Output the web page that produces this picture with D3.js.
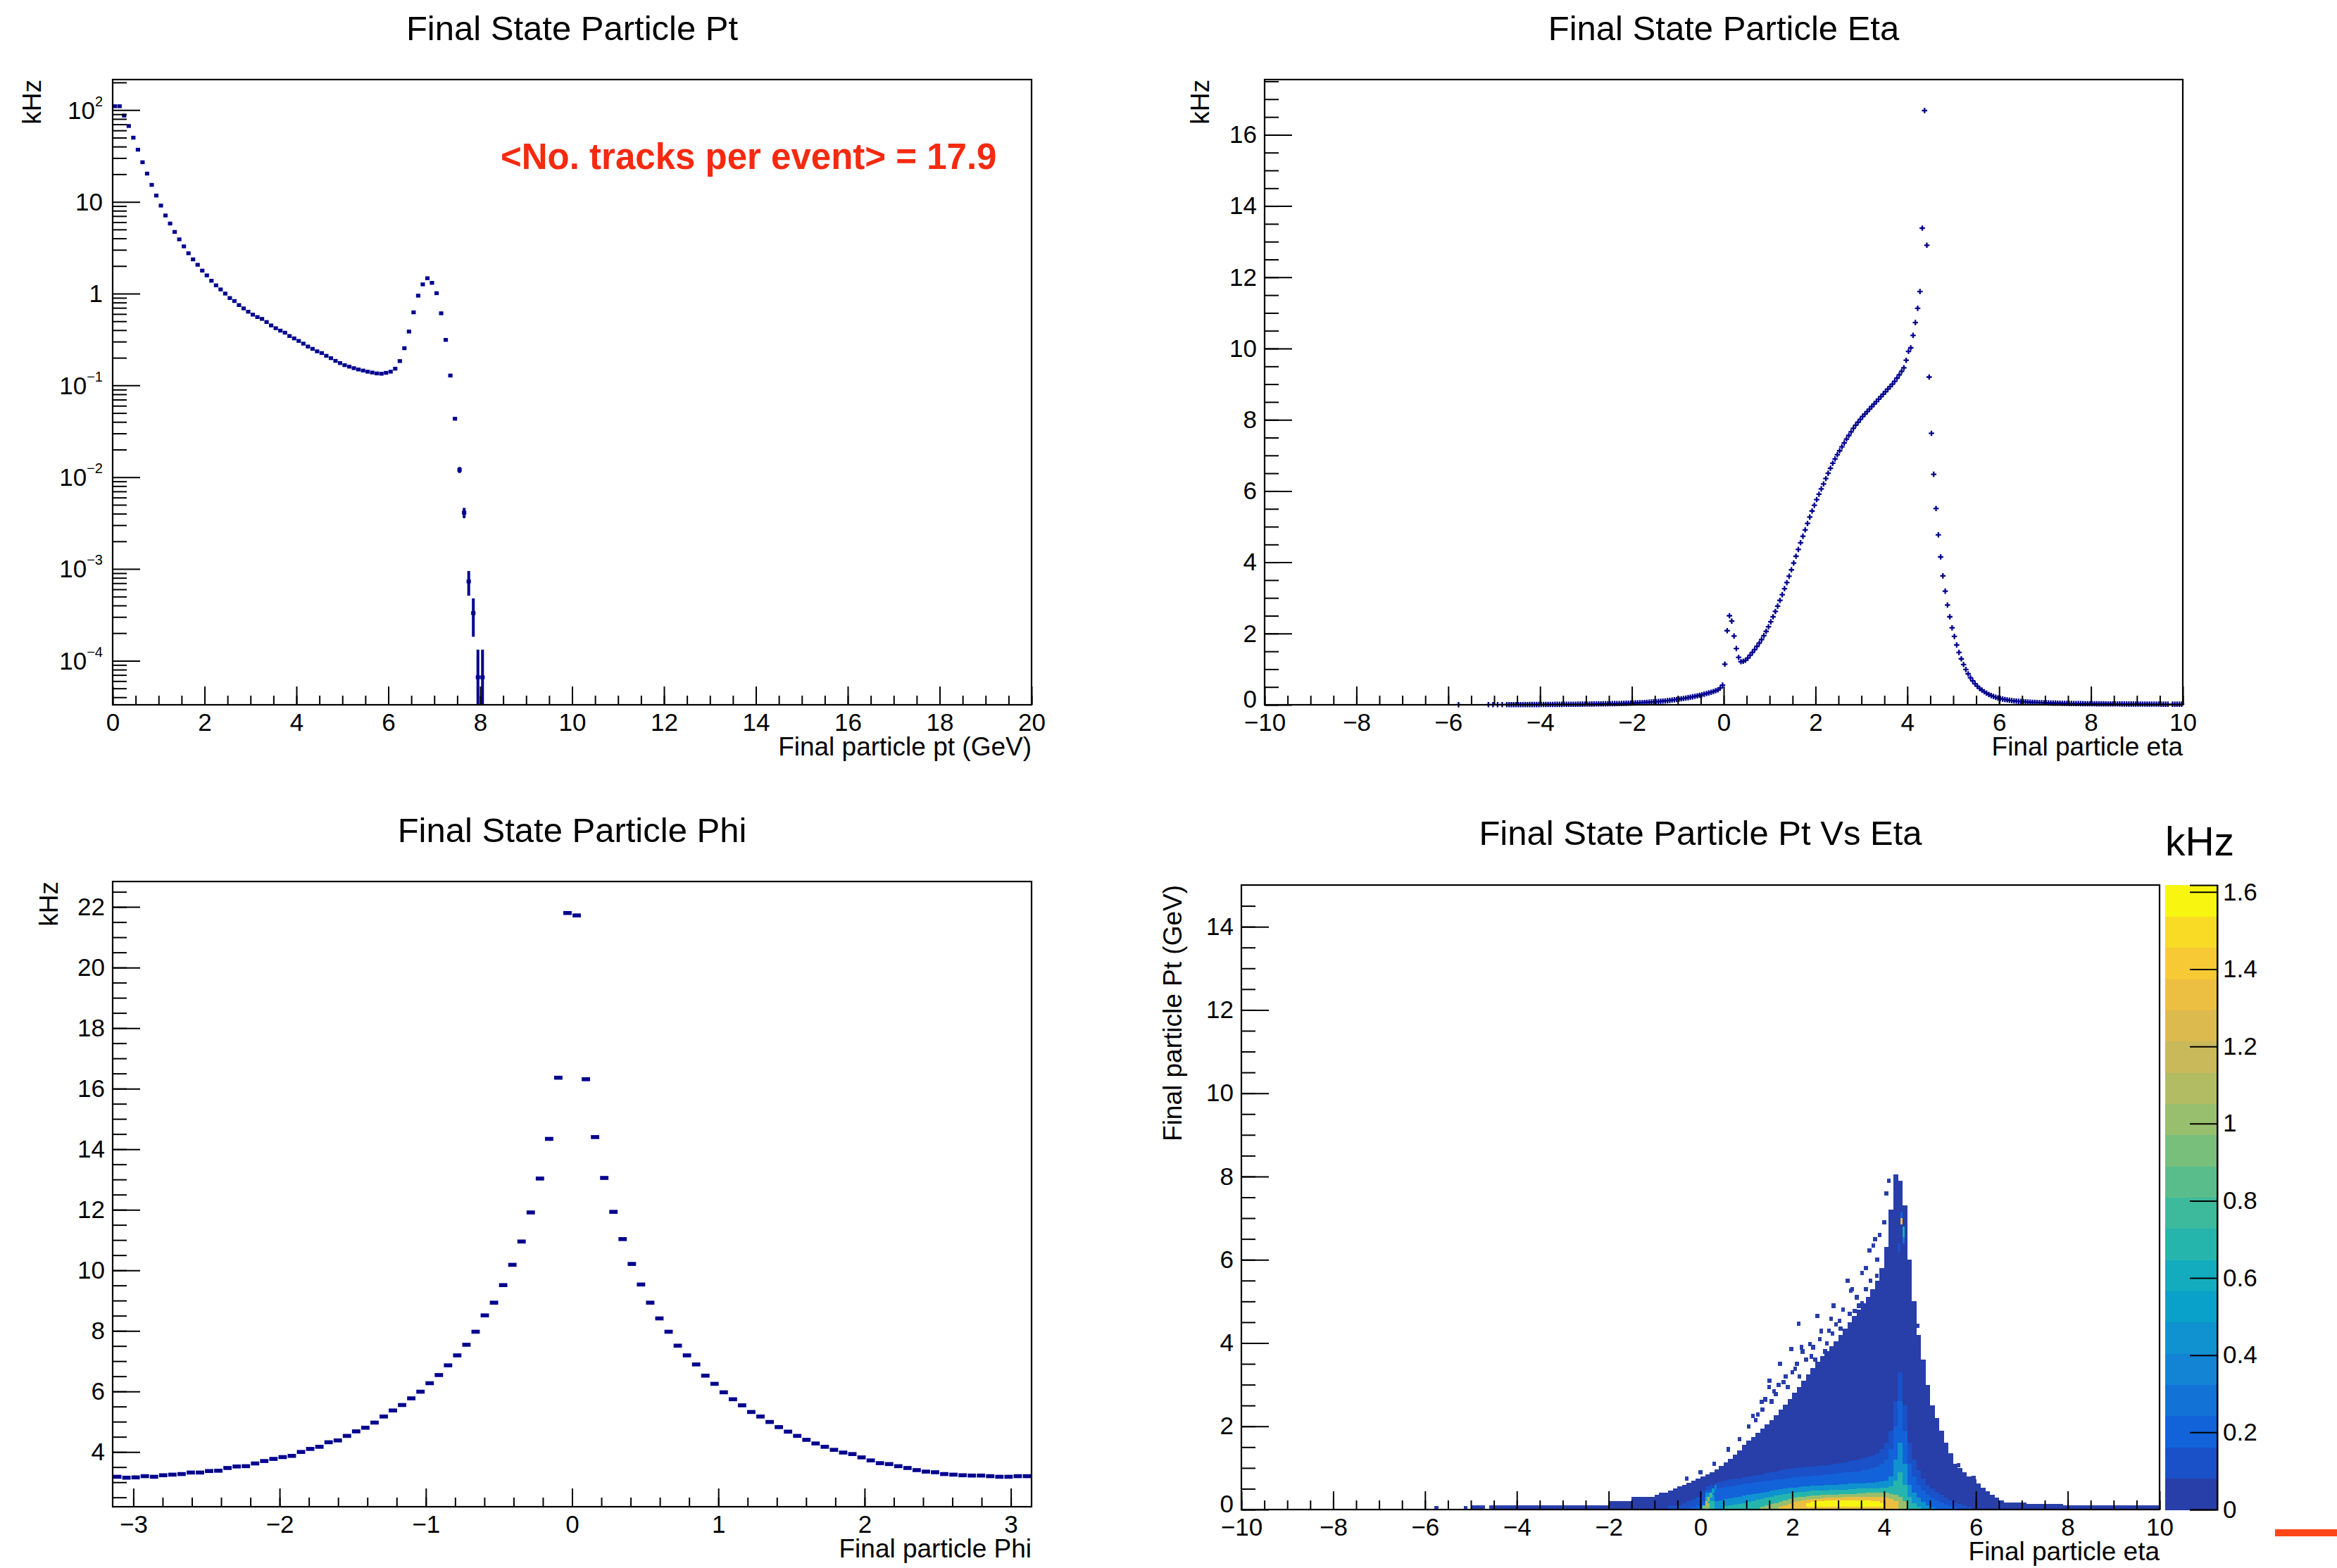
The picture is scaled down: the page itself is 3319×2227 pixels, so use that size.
<!DOCTYPE html>
<html><head><meta charset="utf-8">
<script src="https://cdn.jsdelivr.net/npm/d3@7"></script>
<style>
html,body{margin:0;padding:0;background:#fff;}
svg{display:block;font-family:"Liberation Sans",Arial,Helvetica,sans-serif;}
</style></head><body>
<svg id="c" width="3319" height="2227"></svg>
<script>
// ---------------- DATA ----------------
// Panel 1: pt histogram, bins of 0.1 GeV starting at 0 (kHz)
const ptBinWidth = 0.1;
const ptValues = [110,110,87,67,50,37,27,20.3,15.3,11.7,
9.1,7.1,5.8,4.7,3.9,3.27,2.75,2.36,2.06,1.78,
1.58,1.38,1.23,1.11,1.0,0.895,0.83,0.75,0.69,0.635,
0.59,0.555,0.53,0.49,0.45,0.42,0.395,0.375,0.345,0.325,
0.305,0.285,0.265,0.25,0.235,0.225,0.21,0.198,0.185,0.175,
0.166,0.16,0.154,0.149,0.145,0.141,0.138,0.135,0.134,0.137,
0.141,0.152,0.184,0.254,0.386,0.625,0.95,1.26,1.47,1.31,
1.01,0.61,0.313,0.128,0.0433,0.012,0.0041,7.3e-4,3.3e-4,6.6e-5,
6.6e-5];
const ptEntryWeight = 6.6e-5; // kHz per entry (sets error bar size)
const ptTickLabels = ["0","2","4","6","8","10","12","14","16","18","20"];

// Panel 2: eta histogram, 400 bins of 0.05 from -10
const etaBinWidth = 0.05;
const etaValues = [
0,0,0,0,0,0,0,0,0,0,0,0,0,0,0,0,0,0,0,0,
0,0,0,0,0,0,0,0,0,0,0,0,0,0,0,0,0,0,0,0,
0,0,0,0,0,0,0,0,0,0,0,0,0,0,0,0,0,0,0,0,
0,0,0,0,0,0,0,0,0,0,0,0,0,0,0,0,0,0,0,0,
0,0,0,0,0.003,0,0,0,0,0,0,0,0,0,0,0,0,0.004,0,0.004,
0,0.004,0,0.004,0,0.005,0.004,0.005,0.005,0.006,0.005,0.006,0.006,0.007,0.006,0.007,0.007,0.008,0.008,0.008,
0.009,0.009,0.010,0.010,0.011,0.011,0.012,0.012,0.013,0.013,0.014,0.014,0.015,0.015,0.016,0.016,0.017,0.018,0.018,0.019,
0.020,0.021,0.022,0.023,0.024,0.025,0.026,0.027,0.028,0.029,0.030,0.032,0.033,0.035,0.036,0.038,0.040,0.042,0.044,0.046,
0.048,0.051,0.054,0.057,0.060,0.064,0.068,0.072,0.076,0.081,0.086,0.092,0.098,0.104,0.110,0.117,0.124,0.132,0.140,0.149,
0.158,0.168,0.178,0.189,0.200,0.212,0.225,0.238,0.252,0.267,0.282,0.298,0.315,0.333,0.352,0.372,0.395,0.42,0.47,0.55,
1.14,2.08,2.5,2.35,1.93,1.58,1.33,1.21,1.22,1.25,1.31,1.39,1.47,1.55,1.64,1.73,1.83,1.94,2.06,2.19,
2.33,2.47,2.62,2.77,2.93,3.09,3.26,3.43,3.61,3.79,3.98,4.17,4.36,4.55,4.73,4.91,5.09,5.27,5.44,5.6,
5.76,5.91,6.06,6.2,6.35,6.5,6.64,6.78,6.9,7.02,7.13,7.24,7.35,7.46,7.56,7.66,7.76,7.85,7.93,8.01,
8.09,8.16,8.23,8.3,8.37,8.44,8.51,8.58,8.65,8.72,8.79,8.86,8.93,9.0,9.08,9.17,9.26,9.36,9.46,9.67,
9.92,10.02,10.37,10.73,11.13,11.6,13.38,16.68,12.9,9.2,7.62,6.47,5.51,4.77,4.15,3.62,3.19,2.8,2.47,2.16,
1.92,1.68,1.47,1.29,1.13,0.99,0.87,0.76,0.67,0.59,0.52,0.46,0.41,0.365,0.325,0.29,0.26,0.235,0.21,0.19,
0.175,0.16,0.148,0.137,0.127,0.118,0.11,0.103,0.097,0.091,0.086,0.081,0.077,0.073,0.069,0.066,0.063,0.06,0.057,0.055,
0.053,0.051,0.049,0.047,0.046,0.044,0.043,0.041,0.040,0.039,0.038,0.037,0.036,0.035,0.034,0.033,0.032,0.031,0.031,0.030,
0.029,0.029,0.028,0.028,0.027,0.027,0.026,0.026,0.025,0.025,0.024,0.024,0.024,0.023,0.023,0.023,0.022,0.022,0.022,0.021,
0.021,0.021,0.020,0.020,0.020,0.020,0.019,0.019,0.019,0.019,0.018,0.018,0.018,0.018,0,0.017,0.017,0.017,0.017,0.017];
const etaTickLabels = ["\u221210","\u22128","\u22126","\u22124","\u22122","0","2","4","6","8","10"];

// Panel 3: phi histogram, 100 bins over [-pi, pi]
const phiValues = [3.18,3.15,3.16,3.2,3.18,3.23,3.25,3.27,3.32,3.32,
3.37,3.38,3.47,3.52,3.53,3.62,3.70,3.77,3.83,3.87,
4.0,4.1,4.17,4.32,4.38,4.53,4.68,4.8,4.97,5.17,
5.37,5.55,5.77,5.99,6.27,6.54,6.86,7.19,7.54,7.97,
8.51,8.93,9.51,10.18,10.95,11.91,13.03,14.34,16.36,21.8,
21.72,16.31,14.4,13.05,11.93,11.03,10.21,9.53,8.93,8.41,
7.97,7.51,7.19,6.89,6.52,6.25,5.97,5.74,5.54,5.32,
5.17,4.99,4.82,4.67,4.53,4.4,4.28,4.17,4.07,3.98,
3.93,3.82,3.72,3.63,3.6,3.53,3.47,3.4,3.35,3.33,
3.27,3.25,3.23,3.22,3.22,3.2,3.18,3.18,3.2,3.2];
const phiTickLabels = ["\u22123","\u22122","\u22121","0","1","2","3"];

// Panel 4: Pt vs Eta (kHz). Envelope layer: columns of 0.1 in eta from -5.0
const h2EnvEtaStart = -5.0, h2ColWidth = 0.1;
const h2EnvTop = [
0.1,0.1,0.1,0,0.1,0.1,0.1,0.1,0.1,0.1,
0.1,0.1,0.1,0.1,0.1,0.1,0.1,0.1,0.1,0.1,
0.1,0.1,0.1,0.1,0.1,0.1,0.1,0.1,0.1,0.1,
0.2,0.2,0.2,0.2,0.2,0.3,0.3,0.3,0.3,0.3,
0.35,0.4,0.4,0.45,0.5,0.55,0.6,0.65,0.7,0.75,
0.8,0.85,0.9,0.97,1.05,1.13,1.22,1.32,1.42,1.55,
1.65,1.75,1.85,1.95,2.05,2.15,2.27,2.4,2.52,2.65,
2.8,2.95,3.1,3.25,3.4,3.55,3.68,3.8,3.92,4.05,
4.2,4.35,4.5,4.65,4.8,4.95,5.1,5.3,5.5,5.8,
6.3,7.2,8.05,7.9,7.3,6.0,5.0,4.2,3.6,3.0,
2.5,2.2,1.9,1.6,1.35,1.1,1.0,0.9,0.8,0.72,
0.62,0.52,0.44,0.36,0.28,0.22,0.17,0.17,0.17,0.17,
0.17,0.14,0.14,0.14,0.14,0.14,0.14,0.14,0.14,0.1,
0.1,0.1,0.1,0.1,0.1,0.1,0.1,0.1,0.1,0.1,
0.1,0.1,0.1,0.1,0.1,0.1,0.1,0.1,0.1,0.1];
const h2EnvValue = 0.03;
// Inner layers: columns of 0.1 in eta from -1.0 (70 columns), top pt of each level
const h2InnerEtaStart = -1.0;
const h2LayerValues = [0.12, 0.22, 0.45, 0.7, 1.0, 1.3, 1.57];
const h2LayerBottom = [0, 0, 0, 0, 0, 0, 0.08];
const h2Layer1 = [0,0,0,0.1,0.1,0.1,0.15,0.2,0.25,0.3,
0.45,0.55,0.6,0.65,0.68,0.7,0.72,0.74,0.75,0.77,
0.79,0.81,0.83,0.85,0.88,0.9,0.92,0.94,0.96,0.98,
1.0,1.01,1.02,1.03,1.04,1.05,1.06,1.07,1.08,1.1,
1.12,1.14,1.16,1.18,1.2,1.23,1.26,1.3,1.36,1.45,
1.6,1.9,2.6,3.3,2.5,1.6,1.2,0.95,0.75,0.6,
0.5,0.42,0.35,0.28,0.22,0.17,0.13,0.1,0.07,0];
const h2Layer2 = [0,0,0,0,0,0,0,0,0.07,0.1,
0.2,0.45,0.48,0.5,0.52,0.54,0.56,0.58,0.6,0.62,
0.63,0.64,0.66,0.67,0.69,0.7,0.72,0.73,0.74,0.76,
0.77,0.78,0.79,0.8,0.81,0.82,0.83,0.84,0.85,0.86,
0.88,0.89,0.9,0.91,0.92,0.94,0.96,0.99,1.03,1.1,
1.2,1.45,2.0,2.6,1.9,1.1,0.8,0.6,0.45,0.35,
0.28,0.22,0.17,0.12,0.08,0.05,0,0,0,0];
const h2Layer3 = [0,0,0,0,0,0,0,0,0,0,
0.1,0.4,0.35,0.2,0.22,0.25,0.27,0.29,0.31,0.33,
0.35,0.37,0.39,0.41,0.43,0.45,0.47,0.49,0.5,0.52,
0.53,0.54,0.55,0.56,0.57,0.57,0.58,0.59,0.6,0.6,
0.61,0.61,0.62,0.62,0.63,0.63,0.64,0.65,0.66,0.68,
0.7,0.8,1.2,1.6,1.1,0.6,0.4,0.28,0.18,0.1,
0.05,0,0,0,0,0,0,0,0,0];
const h2Layer4 = [0,0,0,0,0,0,0,0,0,0,
0,0.3,0.2,0,0,0.08,0.1,0.12,0.14,0.16,
0.18,0.2,0.23,0.26,0.29,0.31,0.33,0.35,0.37,0.39,
0.41,0.42,0.43,0.44,0.45,0.45,0.46,0.46,0.47,0.47,
0.48,0.48,0.49,0.49,0.5,0.5,0.5,0.51,0.51,0.52,
0.52,0.55,0.7,0.9,0.6,0.3,0.15,0.07,0,0,
0,0,0,0,0,0,0,0,0,0];
const h2Layer5 = [0,0,0,0,0,0,0,0,0,0,
0,0.15,0,0,0,0,0,0,0,0,
0,0,0,0.07,0.1,0.13,0.16,0.19,0.22,0.25,
0.28,0.3,0.31,0.32,0.33,0.34,0.35,0.35,0.36,0.36,
0.37,0.37,0.38,0.38,0.39,0.39,0.4,0.4,0.4,0.4,
0.4,0.38,0.35,0.3,0.2,0,0,0,0,0,
0,0,0,0,0,0,0,0,0,0];
const h2Layer6 = [0,0,0,0,0,0,0,0,0,0,
0,0,0,0,0,0,0,0,0,0,
0,0,0,0,0,0,0,0.07,0.1,0.14,
0.18,0.2,0.22,0.24,0.25,0.26,0.27,0.28,0.28,0.29,
0.29,0.3,0.3,0.3,0.3,0.3,0.3,0.3,0.3,0.3,
0.28,0.25,0.2,0,0,0,0,0,0,0,
0,0,0,0,0,0,0,0,0,0];
const h2Layer7 = [0,0,0,0,0,0,0,0,0,0,
0,0,0,0,0,0,0,0,0,0,
0,0,0,0,0,0,0,0,0,0,
0,0,0,0.15,0.18,0.2,0.21,0.22,0.22,0.22,
0.22,0.22,0.22,0.22,0.22,0.22,0.22,0.21,0.2,0.15,
0,0,0,0,0,0,0,0,0,0,
0,0,0,0,0,0,0,0,0,0];
// single cells: [eta, ptLow, ptHigh, kHz]
const h2Cells = [
[0.05,0.0,0.1,0.9],[0.1,0.1,0.2,1.2],[0.15,0.2,0.3,1.0],[0.2,0.3,0.4,0.75],[0.25,0.4,0.5,0.55],[0.3,0.5,0.6,0.35],
[4.35,6.85,7.0,1.35],[4.4,6.55,6.8,0.6],[4.4,6.4,6.55,0.3],[4.35,7.0,7.15,0.2],[4.3,6.2,6.4,0.15]];
// scattered low-rate cells above the envelope: [eta, pt]
const h2Scatter = [[-5.75,0.03],[-5.12,0.03],[2.14,4.47],[2.54,4.65],[2.84,4.59],[3.2,5.5],[3.27,5.26],[3.68,6.23],[3.76,6.35],
[1.98,3.86],[2.22,3.8],[1.73,3.5],[1.81,3.07],[1.49,2.95],[1.25,2.28],[1.14,2.25],[1.41,2.65],[2.38,3.98],
[2.63,4.29],[2.87,4.23],[3.03,4.53],[3.36,4.77],[3.52,4.95],[3.6,5.8],[3.92,5.38],[3.84,5.62],[3.52,5.68],
[2.71,3.8],[2.41,3.68],[2.06,3.38],[1.64,2.77],[1.33,2.59],[4.65,4.89],[4.73,4.41],[4.85,3.13],[4.98,2.34],
[5.14,1.49],[5.3,1.31],[5.62,1.07],[5.95,0.76],
[1.05,2.0],[1.2,2.15],[1.35,2.4],[1.55,2.6],[1.6,2.85],[1.7,3.0],[1.85,3.2],[1.9,2.95],[2.0,3.3],[2.1,3.5],
[2.15,3.2],[2.3,3.6],[2.45,3.9],[2.5,3.6],[2.6,4.1],[2.75,4.0],[2.8,4.3],[2.95,4.45],[3.05,4.35],[3.1,4.8],
[3.25,4.7],[3.4,5.1],[3.45,4.9],[3.6,5.3],[3.7,5.5],[3.85,6.0],[3.9,6.6],[4.0,6.9],[4.05,7.6],[4.1,7.9],
[3.8,6.5],[3.3,5.3],[2.9,4.9],[2.2,3.9],[1.5,3.1],[0.6,1.45],[0.85,1.7],[0.3,1.1],[0.0,0.9],[-0.3,0.75]];
const zMax = 1.618;
const zTicks = [0,0.2,0.4,0.6,0.8,1,1.2,1.4,1.6];
const palette = ["#283ea8","#1a50c8","#1262d9","#1372d6","#1383d3","#0f92cf","#09a1c9","#12acbe","#26b5ad","#3dba9b",
"#59bd8b","#78bf7c","#97bf6d","#b2bc62","#c9b95a","#dcba4e","#ecbf42","#f7c935","#f9db26","#f8f511"];

const titles = ["Final State Particle Pt","Final State Particle Eta","Final State Particle Phi","Final State Particle Pt Vs Eta"];

// ---------------- DRAW ----------------
const svg = d3.select("#c");
svg.append("rect").attr("width",3319).attr("height",2227).attr("fill","#fff");
const NAVY = "#00008e";
const TICKFS = 35, TITLEFS = 49, AXTFS = 37;

function title(text, cx, y){
  svg.append("text").attr("x",cx).attr("y",y).attr("text-anchor","middle")
    .attr("font-size",TITLEFS).text(text);
}
function xTitle(text, xr, y){
  svg.append("text").attr("x",xr).attr("y",y).attr("text-anchor","end").attr("font-size",AXTFS).text(text);
}
function yTitle(text, xb, ytop){
  svg.append("text").attr("transform",`translate(${xb},${ytop}) rotate(-90)`).attr("text-anchor","end")
    .attr("font-size",AXTFS).text(text);
}
function styleAxis(sel){
  sel.select(".domain").remove();
  sel.selectAll("line").attr("stroke","#000").attr("stroke-width",2);
  sel.selectAll("text").attr("font-size",TICKFS).attr("font-family","Liberation Sans, Arial, sans-serif").attr("fill","#000");
}
function xAxis(g, xs, y0, major, labels, minor){
  const a = g.append("g").attr("transform",`translate(0,${y0})`)
    .call(d3.axisBottom(xs).tickValues(major).tickSize(-26).tickPadding(12).tickFormat((d,i)=>labels[i]));
  styleAxis(a);
  const m = g.append("g").attr("transform",`translate(0,${y0})`)
    .call(d3.axisBottom(xs).tickValues(minor).tickSize(-13).tickFormat(""));
  styleAxis(m);
}
function yAxis(g, ys, x0, major, fmt, minor){
  const a = g.append("g").attr("transform",`translate(${x0},0)`)
    .call(d3.axisLeft(ys).tickValues(major).tickSize(-39).tickPadding(11).tickFormat(fmt));
  styleAxis(a);
  // zero label sits just above the corner so it does not collide with the first x label
  a.selectAll(".tick").filter(d=>d===0).select("text").attr("dy","0.1em");
  const m = g.append("g").attr("transform",`translate(${x0},0)`)
    .call(d3.axisLeft(ys).tickValues(minor).tickSize(-20).tickFormat(""));
  styleAxis(m);
}
function frame(g, L, T, R, B){
  g.append("rect").attr("x",L).attr("y",T).attr("width",R-L).attr("height",B-T)
    .attr("fill","none").attr("stroke","#000").attr("stroke-width",2.2);
}
function range(a,b,s){ const r=[]; for(let v=a; v<=b+1e-9; v+=s) r.push(+v.toFixed(4)); return r; }
const lin = d => (d<0?"\u2212":"") + Math.abs(d);

// ===== Panel 1 : Pt (log) =====
{
  const L=160,R=1465,T=113,B=1001;
  const g = svg.append("g");
  const xs = d3.scaleLinear().domain([0,20]).range([L,R]);
  const ys = d3.scaleLog().domain([3.31e-5,214.8]).range([B,T]);
  title(titles[0], (L+R)/2, T-56);
  const pts = ptValues.map((v,i)=>({lo:i*ptBinWidth, hi:(i+1)*ptBinWidth, v})).filter(d=>d.v>0);
  g.selectAll(".pe").data(pts).enter().append("line")
    .attr("x1",d=>xs((d.lo+d.hi)/2)).attr("x2",d=>xs((d.lo+d.hi)/2))
    .attr("y1",d=>ys(d.v+Math.sqrt(d.v*ptEntryWeight)))
    .attr("y2",d=>{const lo=d.v-Math.sqrt(d.v*ptEntryWeight); return lo>3.31e-5? ys(lo): B;})
    .attr("stroke",NAVY).attr("stroke-width",4);
  g.selectAll(".pm").data(pts).enter().append("rect")
    .attr("x",d=>xs(d.lo)+0.2).attr("width",d=>xs(d.hi)-xs(d.lo)-0.4)
    .attr("y",d=>ys(d.v)-2.7).attr("height",5.4).attr("fill",NAVY);
  xAxis(g, xs, B, range(0,20,2), ptTickLabels, range(0,20,0.5));
  const major = [1e-4,1e-3,1e-2,1e-1,1,10,100];
  const minor = [];
  for (let e=-5;e<=2;e++) for (let k=2;k<=9;k++){ const v=k*Math.pow(10,e); if(v>3.31e-5 && v<214.8) minor.push(v);}
  const ya = g.append("g").attr("transform",`translate(${L},0)`)
    .call(d3.axisLeft(ys).tickValues(major).tickSize(-39).tickFormat(""));
  styleAxis(ya);
  const ym = g.append("g").attr("transform",`translate(${L},0)`)
    .call(d3.axisLeft(ys).tickValues(minor).tickSize(-20).tickFormat(""));
  styleAxis(ym);
  const expLabels = [["10","\u22124"],["10","\u22123"],["10","\u22122"],["10","\u22121"],["1",""],["10",""],["10","2"]];
  major.forEach((v,i)=>{
    const t = g.append("text").attr("x",L-14).attr("y",ys(v)).attr("dy","0.35em")
      .attr("text-anchor","end").attr("font-size",TICKFS);
    if (expLabels[i][1]===""){ t.text(expLabels[i][0]); }
    else {
      t.append("tspan").text(expLabels[i][0]);
      t.append("tspan").attr("font-size",20).attr("dy","-0.9em").text(expLabels[i][1]);
    }
  });
  frame(g,L,T,R,B);
  xTitle("Final particle pt (GeV)", R, B+72);
  yTitle("kHz", 58, T);
  g.append("text").attr("x",711).attr("y",240).attr("font-size",51).attr("font-weight","bold")
    .attr("fill","#f52a10").text("<No. tracks per event> = 17.9");
}

// ===== Panel 2 : Eta =====
{
  const L=1796,R=3100,T=113,B=1001;
  const g = svg.append("g");
  const xs = d3.scaleLinear().domain([-10,10]).range([L,R]);
  const ys = d3.scaleLinear().domain([0,17.55]).range([B,T]);
  title(titles[1], (L+R)/2, T-56);
  const pts = etaValues.map((v,i)=>({c:-10+(i+0.5)*etaBinWidth, v})).filter(d=>d.v>0);
  g.selectAll(".em").data(pts).enter().append("path")
    .attr("d",d=>{const x=xs(d.c), y=ys(d.v); return `M${x-3.8},${y}H${x+3.8}M${x},${y-3.8}V${y+3.8}`;})
    .attr("stroke",NAVY).attr("stroke-width",2.3).attr("fill","none");
  xAxis(g, xs, B, range(-10,10,2), etaTickLabels, range(-10,10,0.5));
  yAxis(g, ys, L, range(0,16,2), lin, range(0,17.5,0.5));
  frame(g,L,T,R,B);
  xTitle("Final particle eta", R, B+72);
  yTitle("kHz", 1717, T);
}

// ===== Panel 3 : Phi =====
{
  const L=160,R=1465,T=1252,B=2140;
  const g = svg.append("g");
  const xs = d3.scaleLinear().domain([-Math.PI,Math.PI]).range([L,R]);
  const ys = d3.scaleLinear().domain([2.19,22.84]).range([B,T]);
  title(titles[2], (L+R)/2, T-56);
  const bw = 2*Math.PI/phiValues.length;
  const pts = phiValues.map((v,i)=>({lo:-Math.PI+i*bw, hi:-Math.PI+(i+1)*bw, v}));
  g.selectAll(".fm").data(pts).enter().append("rect")
    .attr("x",d=>xs(d.lo)+0.6).attr("width",d=>xs(d.hi)-xs(d.lo)-1.2)
    .attr("y",d=>ys(d.v)-2.8).attr("height",5.6).attr("fill",NAVY);
  xAxis(g, xs, B, range(-3,3,1), phiTickLabels, range(-3,3,0.2));
  yAxis(g, ys, L, range(4,22,2), lin, range(2.5,22.5,0.5));
  frame(g,L,T,R,B);
  xTitle("Final particle Phi", R, B+72);
  yTitle("kHz", 82, T);
}

// ===== Panel 4 : Pt vs Eta =====
{
  const L=1763,R=3067,T=1257,B=2144;
  const g = svg.append("g");
  const xs = d3.scaleLinear().domain([-10,10]).range([L,R]);
  const ys = d3.scaleLinear().domain([0,15]).range([B,T]);
  const col = v => palette[Math.max(0,Math.min(19,Math.floor(v/zMax*20)))];
  title(titles[3], (L+R)/2, T-57);
  const hm = g.append("g");
  const cells = [];
  h2EnvTop.forEach((t,i)=>{ if(t>0) cells.push({e0:h2EnvEtaStart+i*h2ColWidth, e1:h2EnvEtaStart+(i+1)*h2ColWidth, p0:0, p1:t, v:h2EnvValue}); });
  h2Scatter.forEach(([e,p])=>cells.push({e0:e-0.04,e1:e+0.04,p0:p-0.05,p1:p+0.05,v:h2EnvValue}));
  [h2Layer1,h2Layer2,h2Layer3,h2Layer4,h2Layer5,h2Layer6,h2Layer7].forEach((arr,li)=>{
    arr.forEach((t,i)=>{ if(t>h2LayerBottom[li]) cells.push({e0:h2InnerEtaStart+i*h2ColWidth, e1:h2InnerEtaStart+(i+1)*h2ColWidth, p0:h2LayerBottom[li], p1:t, v:h2LayerValues[li]}); });
  });
  h2Cells.forEach(([e,p0,p1,v])=>cells.push({e0:e,e1:e+0.05,p0,p1,v}));
  hm.selectAll("rect").data(cells).enter().append("rect")
    .attr("x",d=>xs(d.e0)).attr("width",d=>xs(d.e1)-xs(d.e0)+0.3)
    .attr("y",d=>ys(d.p1)).attr("height",d=>ys(d.p0)-ys(d.p1)+0.3)
    .attr("fill",d=>col(d.v)).attr("shape-rendering","crispEdges");
  xAxis(g, xs, B, range(-10,10,2), etaTickLabels, range(-10,10,0.5));
  yAxis(g, ys, L, range(0,14,2), lin, range(0,14.5,0.5));
  frame(g,L,T,R,B);
  xTitle("Final particle eta", R, B+72);
  yTitle("Final particle Pt (GeV)", 1678, T);
  const CL=3075, CR=3149;
  const zs = d3.scaleLinear().domain([0,zMax]).range([B,T]);
  const bands = palette.map((c,i)=>({z0:i*zMax/20, z1:(i+1)*zMax/20, c}));
  g.selectAll(".cb").data(bands).enter().append("rect")
    .attr("x",CL).attr("width",CR-CL).attr("y",d=>zs(d.z1)).attr("height",d=>zs(d.z0)-zs(d.z1)+0.5)
    .attr("fill",d=>d.c).attr("shape-rendering","crispEdges");
  const za = g.append("g").attr("transform",`translate(${CR},0)`)
    .call(d3.axisRight(zs).tickValues(zTicks).tickSize(-39).tickPadding(8).tickFormat(d=>String(+d.toFixed(1))));
  za.select(".domain").attr("stroke","#000").attr("stroke-width",2);
  za.selectAll("line").attr("stroke","#000").attr("stroke-width",2);
  za.selectAll("text").attr("font-size",TICKFS).attr("fill","#000");
  g.append("line").attr("x1",CR).attr("x2",CR).attr("y1",T).attr("y2",B).attr("stroke","#000").attr("stroke-width",2);
  g.append("text").attr("x",3124).attr("y",1215).attr("text-anchor","middle").attr("font-size",57).text("kHz");
}
svg.append("rect").attr("x",3231).attr("y",2172).attr("width",88).attr("height",10).attr("fill","#ff4517");
</script></body></html>
